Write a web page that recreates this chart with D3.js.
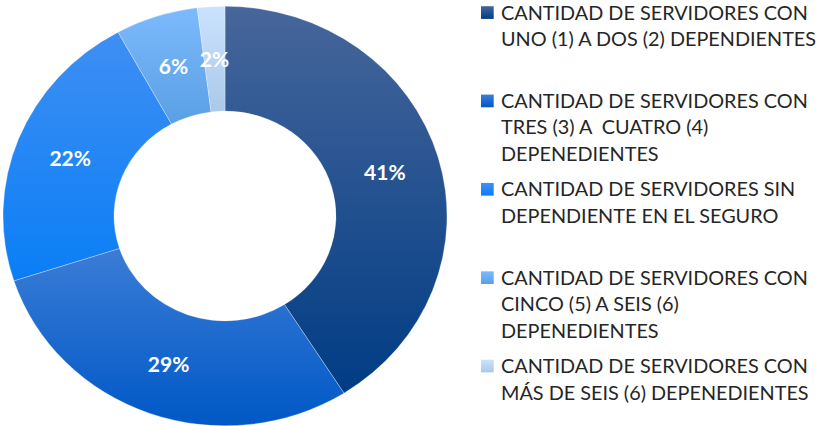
<!DOCTYPE html>
<html lang="es">
<head>
<meta charset="utf-8">
<style>
    body { margin: 0; background: #fff; }
    .pct { fill: #fff; font: bold 21px Lato, "Open Sans", sans-serif; }
    .legend text { fill: #262626; font: 19.5px Lato, "Open Sans", sans-serif; white-space: pre; }
</style>
</head>
<body>
<svg width="827" height="426"></svg>
<script src="https://cdn.jsdelivr.net/npm/d3@7/dist/d3.min.js"></script>
<script>

    // slice values (percent), clockwise from 12 o'clock
    var values = [41, 29, 22, 6, 2];
    var pctLabels = ["41%", "29%", "22%", "6%", "2%"];
    var legendLines = [
        ["CANTIDAD DE SERVIDORES CON", "UNO (1) A DOS (2) DEPENDIENTES"],
        ["CANTIDAD DE SERVIDORES CON", "TRES (3) A  CUATRO (4)", "DEPENEDIENTES"],
        ["CANTIDAD DE SERVIDORES SIN", "DEPENDIENTE EN EL SEGURO"],
        ["CANTIDAD DE SERVIDORES CON", "CINCO (5) A SEIS (6)", "DEPENEDIENTES"],
        ["CANTIDAD DE SERVIDORES CON", "MÁS DE SEIS (6) DEPENEDIENTES"]
    ];
    // top / bottom gradient stops for each slice
    var topColors = ["#47669b", "#3b7cd6", "#3f8ff3", "#7cbafc", "#cbe2fd"];
    var botColors = ["#003c84", "#0058c6", "#0a7ef6", "#5a9fe4", "#a9c9ea"];

    var svg = d3.select("svg");
    var cx = 225, cy = 216, R = 222, sy = 0.945;

    var defs = svg.append("defs");
    values.forEach(function (v, i) {
        var g = defs.append("linearGradient")
            .attr("id", "grad" + i)
            .attr("x1", 0).attr("y1", 0).attr("x2", 0).attr("y2", 1);
        g.append("stop").attr("offset", "0%").attr("stop-color", topColors[i]);
        g.append("stop").attr("offset", "100%").attr("stop-color", botColors[i]);
    });

    var pie = d3.pie().sort(null).value(function (d) { return d; });
    var arc = d3.arc().innerRadius(R / 2).outerRadius(R);
    var arcs = pie(values);

    var donut = svg.append("g")
        .attr("transform", "translate(" + cx + "," + cy + ") scale(1," + sy + ")");

    donut.selectAll("path")
        .data(arcs)
        .enter().append("path")
        .attr("d", arc)
        .attr("fill", function (d, i) { return "url(#grad" + i + ")"; })
        .attr("stroke", "#fff")
        .attr("stroke-opacity", 0.5)
        .attr("stroke-width", 0.6);

    // percent labels at slice centroids
    svg.selectAll("text.pct")
        .data(arcs)
        .enter().append("text")
        .attr("class", "pct")
        .attr("x", function (d) { return cx + arc.centroid(d)[0]; })
        .attr("y", function (d) { return cy + arc.centroid(d)[1] * sy; })
        .attr("text-anchor", "middle")
        .attr("dy", "0.36em")
        .text(function (d, i) { return pctLabels[i]; });

    // legend
    var itemY = d3.scaleLinear().domain([0, 4]).range([12.5, 366]);
    var lineH = 26.6;

    var legend = svg.append("g").attr("class", "legend");

    var items = legend.selectAll("g")
        .data(legendLines)
        .enter().append("g")
        .attr("transform", function (d, i) { return "translate(481," + itemY(i) + ")"; });

    items.append("rect")
        .attr("x", 0).attr("y", -6.3)
        .attr("width", 12.7).attr("height", 12.7)
        .attr("fill", function (d, i) { return "url(#grad" + i + ")"; });

    var txt = items.append("g").attr("class", "txt");
    txt.selectAll("text")
        .data(function (d) { return d; })
        .enter().append("text")
        .attr("x", 0)
        .attr("y", function (d, j) { return j * lineH; })
        .attr("dy", "0.36em")
        .text(function (d) { return d; });

    // squeeze text horizontally so the first line spans ~307px
    var w = legend.select("text").node().getComputedTextLength();
    var sx = 307 / w;
    txt.attr("transform", "translate(20,0) scale(" + sx + ",1)");

</script>
</body>
</html>
